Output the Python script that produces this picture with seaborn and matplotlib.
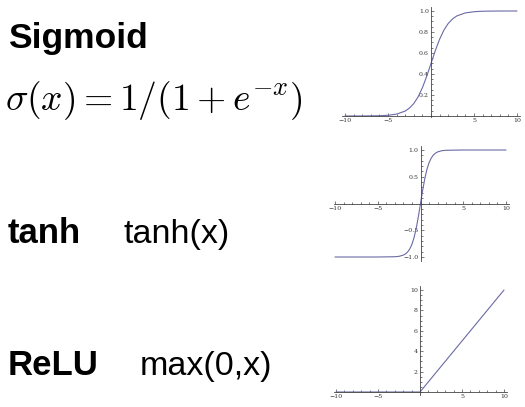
import numpy as np
import matplotlib
matplotlib.use('Agg')
import matplotlib.pyplot as plt
import seaborn as sns
from matplotlib.ticker import MultipleLocator, FixedLocator

# valores
x_sig = [-10, -8, -6, -5, -4, -3, -2.5, -2, -1.5, -1, -0.5, 0, 0.5, 1, 1.5, 2, 2.5, 3, 4, 5, 6, 8, 10]
y_sig = [0.0, 0.0003, 0.0025, 0.0067, 0.018, 0.047, 0.076, 0.119, 0.182, 0.269, 0.378, 0.5,
         0.622, 0.731, 0.818, 0.881, 0.924, 0.953, 0.982, 0.993, 0.998, 1.0, 1.0]

x_tanh = [-10, -5, -3, -2.5, -2, -1.75, -1.5, -1.25, -1, -0.75, -0.5, -0.25, 0,
          0.25, 0.5, 0.75, 1, 1.25, 1.5, 1.75, 2, 2.5, 3, 5, 10]
y_tanh = [-1.0, -1.0, -0.995, -0.987, -0.964, -0.941, -0.905, -0.848, -0.762, -0.635, -0.462, -0.245, 0,
          0.245, 0.462, 0.635, 0.762, 0.848, 0.905, 0.941, 0.964, 0.987, 0.995, 1.0, 1.0]

x_relu = [-10, 0, 10]
y_relu = [0, 0, 10]

x_ticks = [-10, -5, 5, 10]
sig_yticks = [0.2, 0.4, 0.6, 0.8, 1.0]
tanh_yticks = [-1.0, -0.5, 0.5, 1.0]
relu_yticks = [2, 4, 6, 8, 10]

line_color = '#6a6aa6'
W, H = 525, 407

sns.set_style('white')
plt.rcParams['mathtext.fontset'] = 'cm'
fig = plt.figure(figsize=(W / 100, H / 100), dpi=100)


def panel(x_px, y_px, y_ref, xlim, ylim):
    sx = (x_px[1] - x_px[0]) / 20.0
    left = x_px[0] + (xlim[0] + 10) * sx
    right = x_px[0] + (xlim[1] + 10) * sx
    sy = (y_px[0] - y_px[1]) / (y_ref[1] - y_ref[0])
    bot = y_px[0] + (y_ref[0] - ylim[0]) * sy
    top = y_px[0] - (ylim[1] - y_ref[0]) * sy
    ax = fig.add_axes([left / W, 1 - bot / H, (right - left) / W, (bot - top) / H])
    ax.set_xlim(xlim)
    ax.set_ylim(ylim)
    ax.set_facecolor('none')
    for s in ['top', 'right']:
        ax.spines[s].set_visible(False)
    for s in ['left', 'bottom']:
        ax.spines[s].set_position(('data', 0))
        ax.spines[s].set_color('#444444')
        ax.spines[s].set_linewidth(0.6)
    ax.tick_params(which='both', direction='in', colors='#444444', width=0.5,
                   labelsize=4.5, pad=1.5, bottom=True, left=True)
    ax.tick_params(which='major', length=2.5)
    ax.tick_params(which='minor', length=1.3)
    ax.xaxis.set_major_locator(FixedLocator(x_ticks))
    ax.xaxis.set_minor_locator(MultipleLocator(1))
    ax.set_xticklabels([f'{t}'.replace('-', '\u2212') for t in x_ticks],
                       family='DejaVu Serif', color='#333333', fontsize=4.5)
    return ax


def ylabels(ax, ticks, fmt):
    ax.yaxis.set_major_locator(FixedLocator(ticks))
    ax.set_yticklabels([fmt.format(t).replace('-', '\u2212') for t in ticks],
                       family='DejaVu Serif', color='#333333', fontsize=4.5)


# Sigmoid
ax1 = panel((345, 517), (116, 11), (0, 1), (-10.3, 10.3), (-0.01, 1.04))
sns.lineplot(x=x_sig, y=y_sig, ax=ax1, color=line_color, linewidth=0.8)
ylabels(ax1, sig_yticks, '{:.1f}')
ax1.yaxis.set_minor_locator(MultipleLocator(0.05))

# tanh
ax2 = panel((335, 506), (203.5, 150), (0, 1), (-10.1, 10.3), (-1.08, 1.08))
sns.lineplot(x=x_tanh, y=y_tanh, ax=ax2, color=line_color, linewidth=0.8)
ylabels(ax2, tanh_yticks, '{:.1f}')
ax2.yaxis.set_minor_locator(MultipleLocator(0.1))

# ReLU
ax3 = panel((336, 504), (392, 290), (0, 10), (-10.2, 10.3), (-0.3, 10.4))
sns.lineplot(x=x_relu, y=y_relu, ax=ax3, color=line_color, linewidth=0.8)
ylabels(ax3, relu_yticks, '{:d}')
ax3.yaxis.set_minor_locator(MultipleLocator(0.5))

# textos de la izquierda
fig.text(8 / W, 1 - 48 / H, 'Sigmoid', fontsize=25.5, fontweight='bold', color='black',
         family='Liberation Sans', va='baseline', ha='left')
fig.text(5 / W, 1 - 110 / H, r'$\sigma(x) = 1/(1 + e^{-x})$', fontsize=27, color='black',
         va='baseline', ha='left')
fig.text(8 / W, 1 - 243 / H, 'tanh', fontsize=25, fontweight='bold', color='black',
         family='Liberation Sans', va='baseline', ha='left')
fig.text(123 / W, 1 - 243 / H, 'tanh(x)', fontsize=24.5, color='black',
         family='Liberation Sans', va='baseline', ha='left')
fig.text(8 / W, 1 - 375 / H, 'ReLU', fontsize=25, fontweight='bold', color='black',
         family='Liberation Sans', va='baseline', ha='left')
fig.text(140 / W, 1 - 375 / H, 'max(0,x)', fontsize=24.5, color='black',
         family='Liberation Sans', va='baseline', ha='left')

fig.savefig('out.png', dpi=100)
